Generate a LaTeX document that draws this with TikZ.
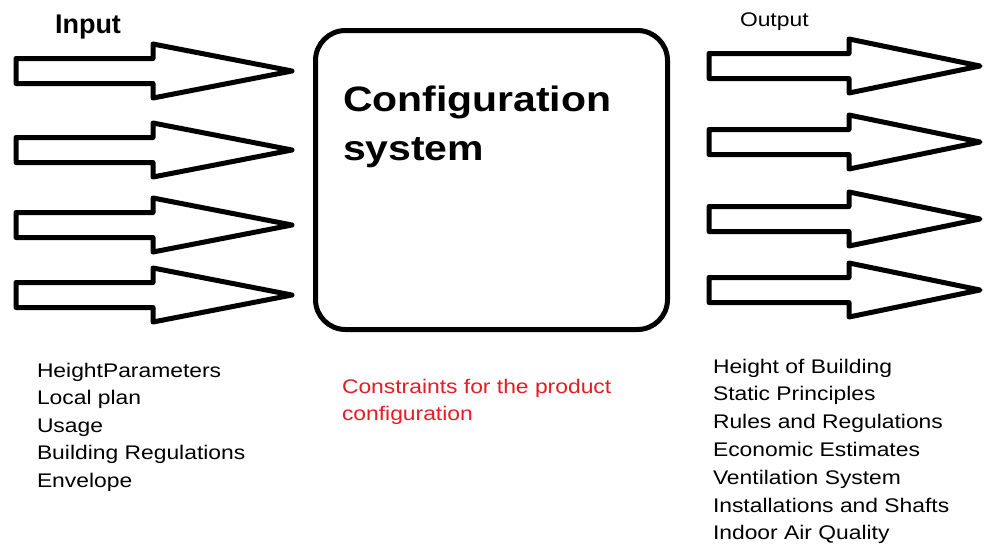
\documentclass[tikz,border=0pt]{standalone}
\usepackage{fontspec}
\setmainfont{Liberation Sans}
\definecolor{constraintred}{RGB}{228,28,36}
% hollow block arrow: #1 left end, #2 centre line, #3 start of head, #4 tip
\newcommand\blockarrow[4]{%
  \draw[fat] (#1,#2-12.5) -- (#3,#2-12.5) -- (#3,#2-27) -- (#4,#2)
    -- (#3,#2+27) -- (#3,#2+12.5) -- (#1,#2+12.5) -- cycle;}
\begin{document}
\begin{tikzpicture}[x=1pt,y=-1pt,
  lbl/.style={anchor=base west, inner sep=0pt, outer sep=0pt, xscale=1.16,
              font=\fontsize{19.7}{23}\selectfont},
  headlbl/.style={anchor=base west, inner sep=0pt, outer sep=0pt,
              font=\bfseries\fontsize{27}{32}\selectfont},
  titlelbl/.style={lbl, font=\bfseries\fontsize{35.3}{40}\selectfont},
  fat/.style={line width=5pt, line join=round, fill=white},
  sysbox/.style={draw, line width=5pt, rounded corners=30pt, inner sep=0pt,
              minimum width=352pt, minimum height=299pt}]
\useasboundingbox (0,0) rectangle (984,544);
\fill[white] (0,0) rectangle (984,544);

% central configuration system
\node[sysbox] (sys) at (491.5,180) {};
\node[titlelbl] (title1) at (343,111) {Configuration};
\node[titlelbl] (title2) at (343,160) {system};

% input arrows
\foreach \c in {71,150,225,295} {\blockarrow{16}{\c}{153}{292}}
% output arrows
\foreach \c in {66,142,219,290} {\blockarrow{709}{\c}{849}{980}}

% headings
\node[headlbl] (inhead) at (55,33) {Input};
\node[lbl] (outhead) at (740,26) {Output};

% input list
\foreach \t [count=\i] in {HeightParameters,Local plan,Usage,Building Regulations,Envelope}
  \node[lbl] (in\i) at (37,349.5+27.5*\i) {\t};

% constraints
\node[lbl, text=constraintred] (con1) at (342,393) {Constraints for the product};
\node[lbl, text=constraintred] (con2) at (342,420) {configuration};

% output list
\foreach \t [count=\i] in {Height of Building,Static Principles,Rules and Regulations,Economic Estimates,Ventilation System,Installations and Shafts,Indoor Air Quality}
  \node[lbl] (out\i) at (713,345.2+27.8*\i) {\t};
\end{tikzpicture}
\end{document}
